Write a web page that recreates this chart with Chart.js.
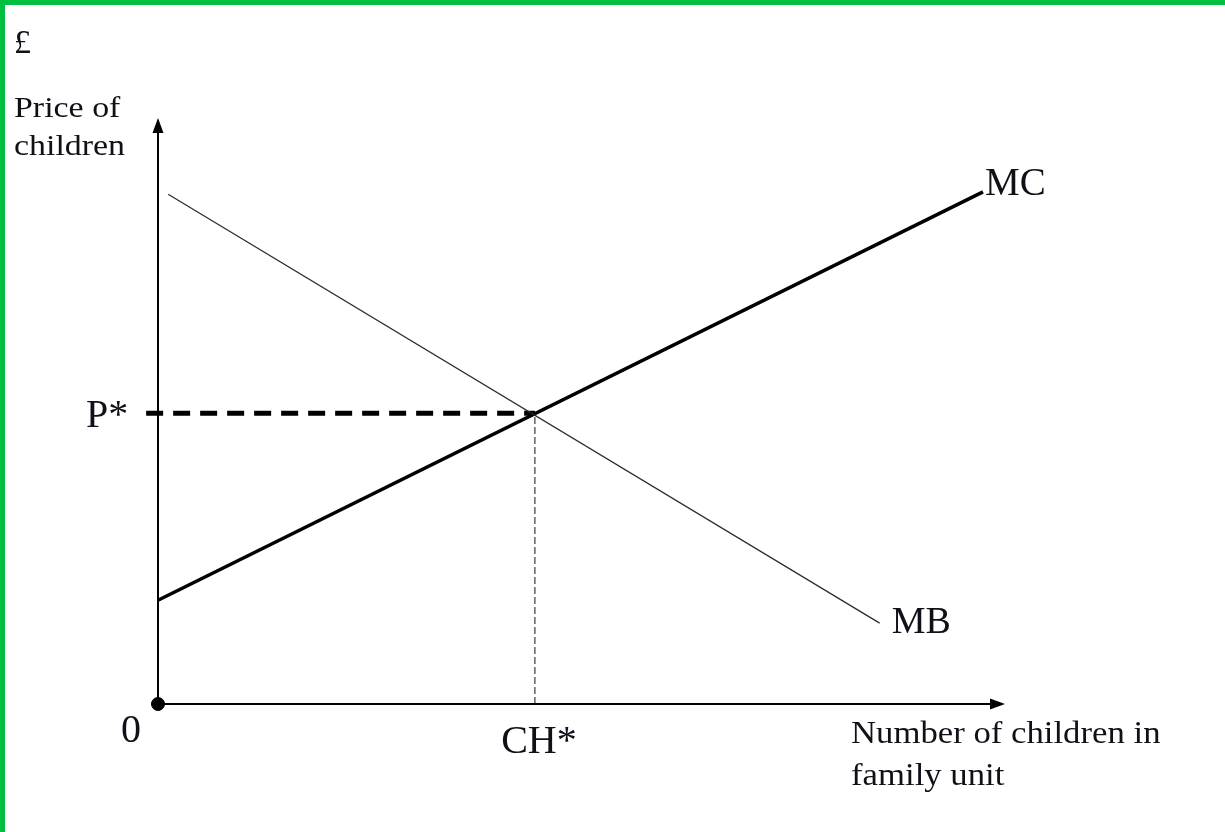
<!DOCTYPE html>
<html>
<head>
<meta charset="utf-8">
<title>Price of children - MB / MC</title>
<script src="https://cdn.jsdelivr.net/npm/chart.js@4.4.1/dist/chart.umd.min.js"></script>
<style>
  html, body { margin: 0; padding: 0; background: #ffffff; }
  #wrap { position: relative; width: 1225px; height: 832px; }
  #wrap .bar-top { position: absolute; left: 0; top: 0; width: 1225px; height: 5px; background: #00bf40; }
  #wrap .bar-left { position: absolute; left: 0; top: 0; width: 5px; height: 832px; background: #00bf40; }
  canvas { position: absolute; left: 0; top: 0; }
</style>
</head>
<body>
<div id="wrap">
  <canvas id="chart" width="1225" height="832"></canvas>
  <div class="bar-top"></div>
  <div class="bar-left"></div>
</div>
<script>
// curves (x = number of children, y = price)
const mcX = [0, 9.74];
const mcY = [1.77, 8.74];
const mbX = [0.12, 8.52];
const mbY = [8.70, 1.38];

// equilibrium point
const eqX = 4.45;
const eqY = 4.96;

// axis ranges
const xMax = 10;
const yMax = 10;

// texts
const currencyLabel = "£";
const yTitle = ["Price of", "children"];
const xTitle = ["Number of children in", "family unit"];
const priceTick = "P*";
const qtyTick = "CH*";
const originTick = "0";
const mcLabel = "MC";
const mbLabel = "MB";

const serif = '"Liberation Serif", "Times New Roman", serif';
const ink = "#101018";

function toPoints(xs, ys) {
  return xs.map((x, i) => ({ x: x, y: ys[i] }));
}

function drawText(ctx, text, x, y, size, stretch) {
  ctx.save();
  ctx.translate(x, y);
  ctx.scale(stretch || 1, 1);
  ctx.font = size + "px " + serif;
  ctx.fillStyle = ink;
  ctx.textBaseline = "alphabetic";
  ctx.fillText(text, 0, 0);
  ctx.restore();
}

const axesPlugin = {
  id: "axesPlugin",
  beforeDatasetsDraw(chart) {
    const ctx = chart.ctx;
    const xs = chart.scales.x;
    const ys = chart.scales.y;
    const x0 = xs.getPixelForValue(0);
    const y0 = ys.getPixelForValue(0);
    const xEnd = xs.getPixelForValue(xMax);
    const yEnd = ys.getPixelForValue(yMax);
    ctx.save();
    ctx.strokeStyle = "#000";
    ctx.fillStyle = "#000";
    ctx.lineWidth = 2;
    ctx.beginPath();
    ctx.moveTo(x0, y0);
    ctx.lineTo(x0, yEnd + 12);
    ctx.moveTo(x0, y0);
    ctx.lineTo(xEnd - 12, y0);
    ctx.stroke();
    // arrow heads
    ctx.beginPath();
    ctx.moveTo(x0, yEnd);
    ctx.lineTo(x0 - 5.5, yEnd + 15);
    ctx.lineTo(x0 + 5.5, yEnd + 15);
    ctx.closePath();
    ctx.fill();
    ctx.beginPath();
    ctx.moveTo(xEnd, y0);
    ctx.lineTo(xEnd - 15, y0 - 5.5);
    ctx.lineTo(xEnd - 15, y0 + 5.5);
    ctx.closePath();
    ctx.fill();
    ctx.restore();
  },
  afterDraw(chart) {
    const ctx = chart.ctx;
    const xs = chart.scales.x;
    const ys = chart.scales.y;
    const pY = ys.getPixelForValue(eqY);
    const chX = xs.getPixelForValue(eqX);
    const y0 = ys.getPixelForValue(0);

    drawText(ctx, currencyLabel, 14, 53, 34, 1);
    drawText(ctx, yTitle[0], 14, 117, 30, 1.13);
    drawText(ctx, yTitle[1], 14, 155, 30, 1.13);

    drawText(ctx, priceTick, 86, pY + 14, 40, 1);
    drawText(ctx, originTick, 121, y0 + 38, 40, 1);

    ctx.save();
    ctx.font = "40px " + serif;
    const w = ctx.measureText(qtyTick).width;
    ctx.restore();
    drawText(ctx, qtyTick, chX + 4 - w / 2, y0 + 49, 40, 1);

    drawText(ctx, xTitle[0], 851, 743, 31, 1.12);
    drawText(ctx, xTitle[1], 851, 785, 31, 1.12);

    const mcEndX = xs.getPixelForValue(mcX[mcX.length - 1]);
    const mcEndY = ys.getPixelForValue(mcY[mcY.length - 1]);
    drawText(ctx, mcLabel, mcEndX + 2, mcEndY + 3, 39, 1);

    const mbEndX = xs.getPixelForValue(mbX[mbX.length - 1]);
    const mbEndY = ys.getPixelForValue(mbY[mbY.length - 1]);
    drawText(ctx, mbLabel, mbEndX + 12, mbEndY + 10, 38, 1);
  }
};

const ctx = document.getElementById("chart").getContext("2d");
new Chart(ctx, {
  type: "scatter",
  data: {
    datasets: [
      {
        label: "MB",
        data: toPoints(mbX, mbY),
        showLine: true,
        borderColor: "#2a2a2a",
        borderWidth: 1.2,
        pointRadius: 0,
        clip: false
      },
      {
        label: "MC",
        data: toPoints(mcX, mcY),
        showLine: true,
        borderColor: "#000",
        borderWidth: 3.5,
        pointRadius: 0,
        clip: false
      },
      {
        label: "P*",
        data: [{ x: -0.14, y: eqY }, { x: eqX, y: eqY }],
        showLine: true,
        borderColor: "#000",
        borderWidth: 5,
        borderDash: [17, 10],
        pointRadius: 0,
        clip: false
      },
      {
        label: "CH*",
        data: [{ x: eqX, y: 0 }, { x: eqX, y: eqY }],
        showLine: true,
        borderColor: "#111",
        borderWidth: 1,
        borderDash: [7, 3],
        pointRadius: 0,
        clip: false
      },
      {
        label: "origin",
        data: [{ x: 0, y: 0 }],
        showLine: false,
        pointRadius: 6.5,
        pointBackgroundColor: "#000",
        pointBorderColor: "#000",
        clip: false
      }
    ]
  },
  options: {
    responsive: false,
    animation: false,
    layout: { padding: { left: 158, top: 118, right: 220, bottom: 128 } },
    plugins: {
      legend: { display: false },
      tooltip: { enabled: false }
    },
    scales: {
      x: { type: "linear", min: 0, max: xMax, display: false },
      y: { type: "linear", min: 0, max: yMax, display: false }
    }
  },
  plugins: [axesPlugin]
});
</script>
</body>
</html>
